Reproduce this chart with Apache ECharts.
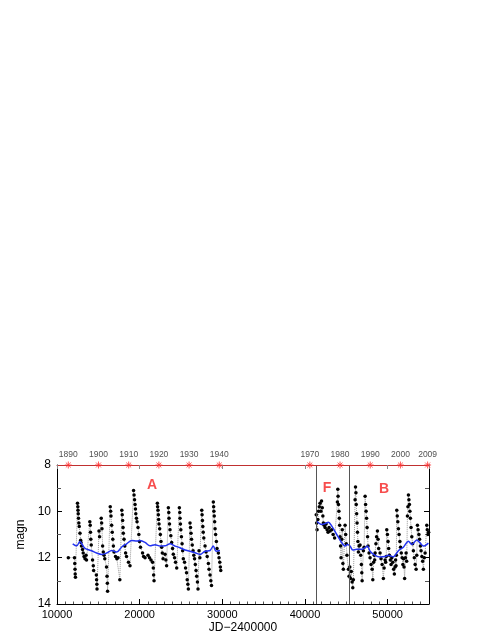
<!DOCTYPE html>
<html>
<head>
<meta charset="utf-8">
<script src="https://cdn.jsdelivr.net/npm/echarts@6/dist/echarts.min.js"></script>
<style>
    html, body { margin: 0; padding: 0; background: #fff; }
    #chart { width: 491px; height: 635px; }
</style>
</head>
<body>
<div id="chart"></div>
<script>
// 观测数据 (JD-2400000, 星等)
const jdA = [11370, 12120, 12150, 12180, 12200, 12230, 12480, 12520, 12540, 12570, 12600, 12640, 12690, 12780, 12860, 12900, 12960, 13090, 13170, 13270, 13390, 13510, 13570,
    13970, 14020, 14050, 14090, 14140, 14300, 14390, 14430, 14760, 14790, 14820, 14840, 15080, 15150, 15350, 15400, 15440, 15520, 15600, 15690, 15780,
    15990, 16050, 16090, 16120, 16440, 16490, 16530, 16610, 16680, 16750, 16820, 16900, 17080, 17240, 17380, 17600,
    17840, 17890, 17940, 17990, 18020, 18110, 18200, 18300, 18410, 18650, 18830,
    19260, 19320, 19380, 19440, 19490, 19530, 19610, 19680, 19800, 19900, 19980, 20100, 20350, 20470, 20650,
    21010, 21190, 21370, 21560, 21650, 21690, 21740, 22140, 22170, 22220, 22260, 22290, 22340, 22420, 22500, 22580, 22660, 22740, 22830, 23070, 23170, 23260,
    23470, 23520, 23550, 23610, 23670, 23770, 23870, 23980, 24070, 24220, 24340, 24480,
    24800, 24850, 24880, 24930, 24980, 25050, 25130, 25200, 25280, 25430, 25550, 25670, 25750, 25830, 25890,
    26090, 26150, 26210, 26270, 26360, 26460, 26550, 26640, 26730, 26820, 26900, 26990, 27060, 27180, 27280,
    27510, 27550, 27590, 27640, 27690, 27760, 27910, 28030, 28170, 28310, 28390, 28510, 28610, 28690,
    28910, 28950, 28980, 29020, 29070, 29120, 29190, 29280, 29360, 29520, 29600, 29690, 29760, 29810];
const magA = [12.0, 12.0, 12.25, 12.5, 12.7, 12.85, 9.65, 9.8, 9.95, 10.1, 10.3, 10.5, 10.65, 10.95, 11.25, 11.35, 11.5, 11.65, 11.8, 11.95, 12.05, 11.9, 12.1,
    10.45, 10.6, 10.9, 11.2, 11.45, 12.1, 12.35, 12.55, 12.75, 12.95, 13.15, 13.35, 10.85, 11.1, 10.3, 10.5, 10.75, 11.5, 11.75, 11.9, 12.05,
    12.4, 12.8, 13.1, 13.45, 9.8, 10.0, 10.2, 10.6, 10.9, 11.2, 11.5, 11.75, 11.95, 12.05, 12.0, 12.95,
    9.95, 10.15, 10.4, 10.7, 10.95, 11.2, 11.5, 11.8, 11.95, 12.2, 12.35,
    9.1, 9.3, 9.5, 9.7, 9.9, 10.1, 10.3, 10.45, 10.7, 11.0, 11.3, 11.55, 11.8, 11.95, 12.0,
    11.9, 12.0, 12.1, 12.2, 12.45, 12.75, 13.0, 9.65, 9.8, 9.95, 10.15, 10.35, 10.55, 10.75, 11.0, 11.3, 11.55, 11.8, 12.05, 11.85, 12.1, 12.35,
    9.85, 10.05, 10.3, 10.55, 10.8, 11.05, 11.35, 11.6, 11.85, 12.0, 12.2, 12.45,
    9.85, 10.05, 10.3, 10.55, 10.8, 11.1, 11.4, 11.7, 12.05, 12.2, 12.45, 12.65, 12.95, 13.15, 13.35,
    10.5, 10.7, 10.95, 11.2, 11.45, 11.7, 11.9, 12.05, 12.3, 12.55, 12.8, 13.05, 13.35, 11.7, 12.0,
    9.95, 10.15, 10.4, 10.65, 10.9, 11.15, 11.5, 11.75, 11.95, 12.25, 12.5, 12.75, 13.0, 13.2,
    9.6, 9.8, 10.0, 10.2, 10.45, 10.75, 11.0, 11.3, 11.6, 11.8, 12.0, 12.2, 12.4, 12.55];

const jdB = [41360, 41410, 41460, 41560, 41640, 41730, 41820, 41920, 42000, 42090, 42160, 42220, 42310, 42430, 42550, 42670, 42790, 42910, 43030, 43240, 43400, 43580,
    43920, 43970, 44000, 44050, 44100, 44150, 44190, 44240, 44300, 44360, 44450, 44510, 44580, 44640, 44850, 44920, 44990, 45070,
    45250, 45330, 45420, 45510, 45600, 45700, 45780, 45850,
    46060, 46110, 46160, 46200, 46250, 46300, 46350, 46400, 46460, 46540, 46660, 46740, 46820, 46870, 46910, 47060, 47150,
    47270, 47330, 47390, 47450, 47510, 47570, 47630, 47750, 47870, 47990, 48120, 48200, 48300, 48380, 48430,
    48480, 48580, 48660, 48760, 48840, 48910, 49080, 49200, 49330, 49480, 49570, 49690, 49760, 49830,
    49890, 49970, 50050, 50120, 50210, 50320, 50410, 50500, 50620, 50720, 50810, 50900, 50960, 51010, 51050,
    51100, 51160, 51230, 51300, 51380, 51480, 51560, 51650, 51750, 51840, 51920, 51980, 52050, 52150, 52230, 52300,
    52390, 52450, 52510, 52570, 52630, 52690, 52750, 52830, 52920, 53020, 53110, 53220, 53320, 53440, 53520,
    53600, 53680, 53780, 53860, 53960, 54040, 54140, 54230, 54320, 54430, 54530, 54730, 54790, 54870, 54950];
const magB = [10.15, 10.5, 10.8, 10.35, 10.0, 9.8, 9.65, 10.0, 9.55, 9.85, 10.2, 10.5, 10.6, 10.7, 10.55, 10.8, 10.9, 10.7, 10.85, 10.8, 11.0, 11.15,
    9.6, 9.05, 9.35, 9.7, 10.0, 10.3, 10.6, 11.1, 11.5, 12.0, 11.2, 10.8, 12.25, 12.5, 10.6, 11.0, 11.4, 11.9,
    12.5, 12.8, 12.4, 12.9, 12.6, 13.05, 13.3, 12.95,
    9.5, 8.95, 9.2, 9.7, 10.1, 10.5, 10.9, 11.3, 11.75, 11.5, 11.45, 11.9, 12.3, 12.65, 13.0, 11.7, 11.55,
    9.35, 9.7, 10.0, 10.3, 10.7, 11.1, 11.5, 11.8, 12.0, 12.3, 12.5, 12.95, 12.2, 11.9, 12.1,
    11.8, 11.4, 11.1, 10.85, 11.2, 11.6, 11.8, 12.05, 12.3, 12.9, 12.45, 12.1, 12.2, 11.95,
    10.8, 11.0, 11.3, 11.6, 11.9, 12.1, 12.3, 12.0, 12.2, 12.5, 12.7, 12.4, 12.1, 12.35, 11.9,
    9.95, 10.2, 10.45, 10.75, 11.0, 11.3, 11.55, 11.8, 12.0, 12.3, 12.05, 12.4, 12.9, 12.0, 11.8, 12.15,
    10.2, 9.8, 9.3, 9.5, 9.7, 10.0, 10.3, 10.7, 11.1, 11.4, 11.7, 12.0, 12.3, 12.5, 11.9,
    10.6, 10.8, 11.0, 11.2, 11.5, 11.7, 11.95, 12.15, 12.5, 12.0, 11.8, 10.6, 10.8, 11.0, 10.9];

// 平滑均值 (蓝线)
const jdMeanA = [11900, 12380, 12780, 13030, 13390, 14200, 14800, 15410, 16010, 16620, 17220, 17830, 18430, 19040, 19640, 20040, 20650, 21250,
    21860, 22460, 23070, 23670, 24280, 24880, 25490, 26090, 26700, 27300, 27910, 28510, 28910, 29240, 29720];
const magMeanA = [11.40, 11.49, 11.30, 11.42, 11.60, 11.70, 11.80, 11.86, 11.80, 11.69, 11.76, 11.54, 11.40, 11.26, 11.28, 11.26, 11.34, 11.49,
    11.44, 11.50, 11.49, 11.40, 11.50, 11.57, 11.67, 11.72, 11.79, 11.86, 11.72, 11.69, 11.50, 11.72, 11.69];
const jdMeanB = [41410, 42020, 42430, 42830, 43240, 43840, 44450, 44850, 45130, 45450, 45780, 46260, 46870, 47270, 47550, 47870, 48480,
    49080, 49690, 50090, 50690, 51300, 51900, 52510, 52920, 53520, 53920, 54320, 54930];
const magMeanB = [10.43, 10.57, 10.53, 10.47, 10.64, 11.00, 11.36, 11.50, 11.43, 11.50, 11.67, 11.64, 11.64, 11.57, 11.50, 11.72, 11.90,
    11.97, 11.95, 11.90, 11.96, 11.70, 11.55, 11.29, 11.43, 11.24, 11.36, 11.50, 11.37];

// 顶部年份刻度
const yearLabels = ['1890', '1900', '1910', '1920', '1930', '1940', '1970', '1980', '1990', '2000', '2009'];
const yearJD = [11368, 15020, 18673, 22325, 25978, 29630, 40587, 44239, 47892, 51544, 54832];

// 分段竖线与标注
const splitJD = [41400, 45350];
const noteText = ['A', 'F', 'B'];
const noteJD = [21500, 42670, 49570];
const noteMag = [8.86, 8.99, 9.03];

const zip = (xs, ys) => xs.map((x, i) => [x, ys[i]]);
const FONT = 'Liberation Sans, Arial, Helvetica, sans-serif';

const chart = echarts.init(document.getElementById('chart'));

const dotSeries = (name, xs, ys) => ({
    name: name,
    type: 'line',
    data: zip(xs, ys),
    symbol: 'circle',
    symbolSize: 3.5,
    showSymbol: true,
    itemStyle: { color: '#000' },
    lineStyle: { color: '#999', width: 1, type: 'dotted' },
    z: 3
});

const meanSeries = (name, xs, ys) => ({
    name: name,
    type: 'line',
    data: zip(xs, ys),
    smooth: 0.3,
    showSymbol: false,
    lineStyle: { color: '#2232f0', width: 1.5 },
    z: 4
});

const option = {
    animation: false,
    backgroundColor: '#fff',
    textStyle: { fontFamily: FONT },
    grid: { left: 57, right: 62, top: 465, bottom: 30, containLabel: false },
    xAxis: [{
        type: 'value',
        position: 'bottom',
        min: 10000,
        max: 55000,
        interval: 10000,
        name: 'JD\u22122400000',
        nameLocation: 'middle',
        nameGap: 18,
        nameTextStyle: { color: '#000', fontSize: 12, fontFamily: FONT },
        axisLine: { show: true, onZero: false, lineStyle: { color: '#000', width: 1 } },
        axisTick: { inside: true, length: 5, lineStyle: { color: '#000' } },
        minorTick: { show: true, splitNumber: 10, length: 2.5, lineStyle: { color: '#555' } },
        axisLabel: {
            color: '#000', fontSize: 11, margin: 5, showMaxLabel: false, fontFamily: FONT,
            formatter: v => String(v)
        },
        splitLine: { show: false }
    }, {
        type: 'value',
        position: 'top',
        min: 10000,
        max: 55000,
        interval: 10000,
        axisLine: { show: true, onZero: false, lineStyle: { color: '#c03030', width: 1 } },
        axisTick: { inside: true, length: 4, lineStyle: { color: '#888' } },
        minorTick: { show: false },
        axisLabel: { show: false },
        splitLine: { show: false },
        z: 5
    }],
    yAxis: [{
        type: 'value',
        inverse: true,
        min: 8,
        max: 14,
        interval: 2,
        name: 'magn',
        nameLocation: 'middle',
        nameGap: 24,
        nameRotate: 90,
        nameTextStyle: { color: '#000', fontSize: 12, fontFamily: FONT },
        axisLine: { show: true, onZero: false, lineStyle: { color: '#000', width: 1 } },
        axisTick: { inside: true, length: 5, lineStyle: { color: '#000' } },
        minorTick: { show: true, splitNumber: 2, length: 4, lineStyle: { color: '#555' } },
        axisLabel: { color: '#000', fontSize: 12, margin: 6, fontFamily: FONT },
        splitLine: { show: false }
    }, {
        type: 'value',
        position: 'right',
        inverse: true,
        min: 8,
        max: 14,
        interval: 2,
        axisLine: { show: true, onZero: false, lineStyle: { color: '#000', width: 1 } },
        axisTick: { inside: true, length: 5, lineStyle: { color: '#000' } },
        minorTick: { show: true, splitNumber: 2, length: 4, lineStyle: { color: '#555' } },
        axisLabel: { show: false },
        splitLine: { show: false }
    }],
    series: [
        dotSeries('A', jdA, magA),
        Object.assign(dotSeries('B', jdB, magB), {
            markLine: {
                silent: true,
                symbol: 'none',
                label: { show: false },
                lineStyle: { color: '#555', width: 1, type: 'solid' },
                data: splitJD.map(v => ({ xAxis: v }))
            }
        }),
        meanSeries('meanA', jdMeanA, magMeanA),
        meanSeries('meanB', jdMeanB, magMeanB),
        {
            // 年份星号
            type: 'scatter',
            data: yearJD.map(v => [v, 8]),
            clip: false,
            symbol: 'path://M0,-5L0,5M-5,0L5,0M-3.5,-3.5L3.5,3.5M-3.5,3.5L3.5,-3.5',
            symbolSize: 7,
            itemStyle: { color: 'rgba(0,0,0,0)', borderColor: '#ff3333', borderWidth: 1 },
            label: {
                show: true,
                position: 'top',
                distance: 2,
                color: '#222',
                fontSize: 8.5,
                fontFamily: FONT,
                formatter: p => yearLabels[p.dataIndex]
            },
            z: 6
        },
        {
            // 段落标注
            type: 'scatter',
            data: zip(noteJD, noteMag),
            symbolSize: 0,
            label: {
                show: true,
                position: 'inside',
                color: '#f52020',
                fontSize: 14,
                fontWeight: 'bold',
                fontFamily: FONT,
                formatter: p => noteText[p.dataIndex]
            },
            z: 6
        }
    ]
};

chart.setOption(option);
</script>
</body>
</html>
